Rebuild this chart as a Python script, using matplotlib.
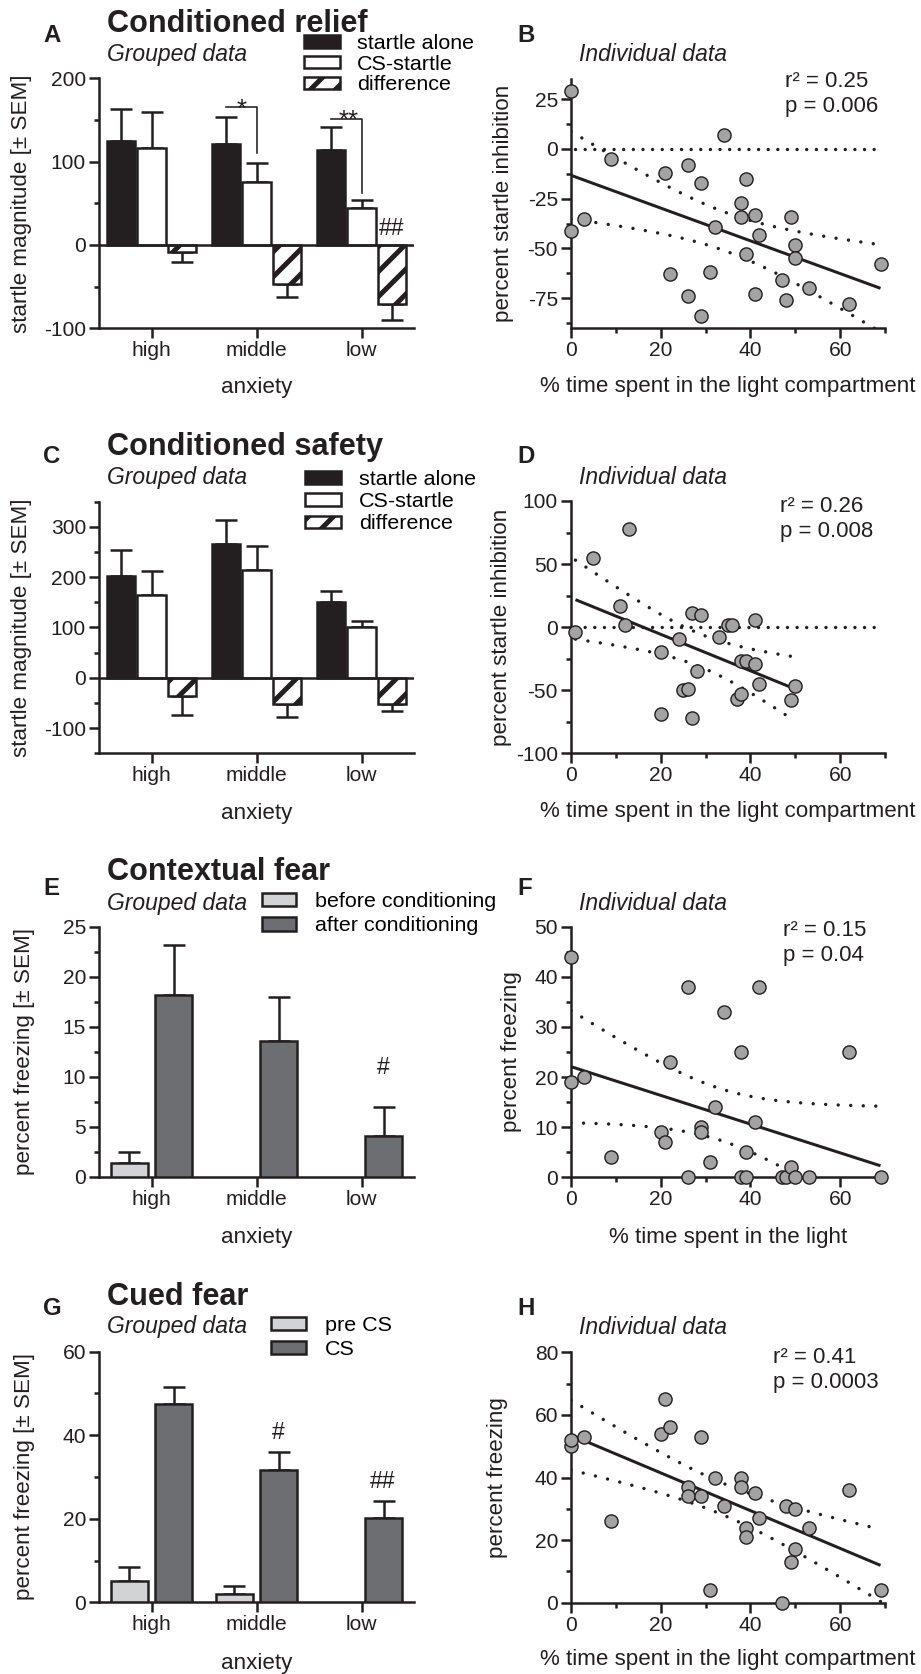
import numpy as np
import matplotlib
matplotlib.use('Agg')
import matplotlib.pyplot as plt
from matplotlib.patches import Patch
from matplotlib.ticker import MultipleLocator

plt.rcParams['font.family'] = ['Liberation Sans', 'DejaVu Sans']
plt.rcParams['axes.unicode_minus'] = False
plt.rcParams['hatch.linewidth'] = 2.4

# ------------------------------------------------------------------ data
groups = ['high', 'middle', 'low']

relief_alone = [125, 121, 114]
relief_alone_sem = [38, 32, 27]
relief_cs = [116, 75, 44]
relief_cs_sem = [43, 23, 10]
relief_diff = [-9, -47, -71]
relief_diff_sem = [12, 15, 19]

safety_alone = [202, 265, 151]
safety_alone_sem = [53, 48, 22]
safety_cs = [164, 214, 100]
safety_cs_sem = [48, 48, 13]
safety_diff = [-36, -52, -52]
safety_diff_sem = [37, 26, 14]

context_before = [1.4, 0, 0]
context_before_sem = [1.1, 0, 0]
context_after = [18.2, 13.6, 4.1]
context_after_sem = [5.0, 4.4, 2.9]

cued_pre = [5.2, 1.9, 0]
cued_pre_sem = [3.3, 2.0, 0]
cued_cs = [47.4, 31.7, 20.1]
cued_cs_sem = [4.1, 4.2, 4.2]

relief_x = [0, 0, 3, 9, 21, 22, 26, 26, 29, 29, 31, 32, 34, 39, 38, 38, 41, 42,
            39, 41, 49, 50, 50, 47, 48, 53, 62, 69]
relief_y = [29, -41, -35, -5, -12, -63, -8, -74, -17, -84, -62, -39, 7, -15, -27,
            -34, -33, -43, -53, -73, -34, -48, -55, -66, -76, -70, -78, -58]

safety_x = [1, 5, 13, 11, 12, 20, 20, 24, 27, 29, 28, 25, 26, 27, 33, 35, 36, 41,
            38, 39, 41, 37, 38, 42, 49, 50]
safety_y = [-4, 55, 78, 17, 2, -20, -69, -9, 11, 10, -35, -50, -49, -72, -8, 2, 2,
            6, -27, -27, -29, -57, -53, -45, -58, -47]

context_x = [0, 0, 3, 9, 20, 21, 22, 26, 26, 29, 29, 31, 32, 34, 38, 38, 39, 39,
             41, 42, 47, 48, 49, 50, 53, 62, 69]
context_y = [44, 19, 20, 4, 9, 7, 23, 38, 0, 10, 9, 3, 14, 33, 25, 0, 0, 5, 11, 38,
             0, 0, 2, 0, 0, 25, 0]

cued_x = [0, 0, 3, 9, 20, 21, 22, 26, 26, 29, 29, 31, 32, 34, 38, 38, 39, 39, 41,
          42, 47, 48, 50, 49, 50, 53, 62, 69]
cued_y = [50, 52, 53, 26, 54, 65, 56, 37, 34, 53, 34, 4, 40, 31, 40, 37, 24, 21,
          35, 27, 0, 31, 30, 13, 17, 24, 36, 4]

stats_B = ['r² = 0.25', 'p = 0.006']
stats_D = ['r² = 0.26', 'p = 0.008']
stats_F = ['r² = 0.15', 'p = 0.04']
stats_H = ['r² = 0.41', 'p = 0.0003']

# ------------------------------------------------------------------ style
W, H = 921, 1674
DPI = 150


def pt(px):
    return px * 72.0 / DPI


BLACK = '#231f20'
LIGHT = '#d1d3d4'
DARK = '#6d6e71'
GREY = '#a3a3a3'
LW = pt(2.5)

FS_TICK = 10.1
FS_LAB = 10.75
FS_TITLE = 14.7
FS_LET = 11.5
FS_SUB = 11.0
FS_STAT = 10.7
FS_LEG = 10.3
FS_SIG = 11.0
FS_STAR = 12.5

fig = plt.figure(figsize=(W / DPI, H / DPI), dpi=DPI)


def rect(x0, x1, ytop, ybot):
    return [x0 / W, 1 - ybot / H, (x1 - x0) / W, (ybot - ytop) / H]


def ftext(x, y, s, **kw):
    fig.text(x / W, 1 - y / H, s, va='baseline', ha='left', **kw)


def base_axes(ax, ylim, major, minor):
    for s in ('top', 'right'):
        ax.spines[s].set_visible(False)
    for s in ('left', 'bottom'):
        ax.spines[s].set_linewidth(LW)
        ax.spines[s].set_color(BLACK)
    ax.set_ylim(*ylim)
    ax.yaxis.set_major_locator(MultipleLocator(major))
    ax.yaxis.set_minor_locator(MultipleLocator(minor))
    ax.tick_params(which='major', length=pt(10), width=LW, color=BLACK,
                   labelsize=FS_TICK, pad=pt(3), labelcolor=BLACK)
    ax.tick_params(which='minor', length=pt(5), width=LW, color=BLACK)
    ax.set_facecolor('none')


def set_labels(ax, xlabel, ylabel, box, xlab_y, ylab_x):
    x0, x1, ytop, ybot = box
    ax.set_xlabel(xlabel, fontsize=FS_LAB, va='center', color=BLACK)
    ax.xaxis.set_label_coords(0.5, (ybot - xlab_y) / (ybot - ytop))
    ax.set_ylabel(ylabel, fontsize=FS_LAB, va='center', color=BLACK)
    ax.yaxis.set_label_coords((ylab_x - x0) / (x1 - x0), 0.5)


def bars(ax, x, vals, sems, width, **kw):
    vals = np.asarray(vals, float)
    sems = np.asarray(sems, float)
    keep = vals != 0
    ax.bar(x[keep], vals[keep], width, edgecolor=BLACK, linewidth=LW, zorder=3, **kw)
    lower = np.where(vals < 0, sems, 0)[keep]
    upper = np.where(vals > 0, sems, 0)[keep]
    ax.errorbar(x[keep], vals[keep], yerr=[lower, upper], fmt='none', ecolor=BLACK,
                elinewidth=LW, capsize=pt(11), capthick=LW, zorder=2)


def legend(ax, handles, left, top, hlen, hh, pad, spacing):
    ax.legend(handles=handles, loc='upper left',
              bbox_to_anchor=(left / W, 1 - top / H), bbox_transform=fig.transFigure,
              frameon=False, fontsize=FS_LEG, handlelength=hlen / 21.4,
              handleheight=hh / 21.4, handletextpad=pad / 21.4,
              labelspacing=spacing, borderpad=0, borderaxespad=0)


def cat_axis(ax):
    ax.set_xlim(-0.5, 2.5)
    ax.set_xticks(np.arange(3), groups)
    ax.tick_params(axis='x', which='minor', bottom=False)


x3 = np.arange(3)

# ------------------------------------------------------------------ A
boxA = (99, 414, 78.3, 328.3)
axA = fig.add_axes(rect(*boxA))
base_axes(axA, (-100, 200), 100, 50)
cat_axis(axA)
bars(axA, x3 - 0.29, relief_alone, relief_alone_sem, 0.268, color=BLACK)
bars(axA, x3, relief_cs, relief_cs_sem, 0.268, color='white')
bars(axA, x3 + 0.29, relief_diff, relief_diff_sem, 0.268, color='white', hatch='//')
axA.axhline(0, color=BLACK, lw=LW, zorder=4)
axA.plot([0.71, 1.0, 1.0], [166, 166, 110], color=BLACK, lw=pt(1.6), clip_on=False)
axA.plot([1.71, 2.0, 2.0], [151, 151, 62], color=BLACK, lw=pt(1.6), clip_on=False)
axA.text(0.863, 154, '*', ha='center', va='baseline', fontsize=FS_STAR, color=BLACK)
axA.text(1.876, 141, '**', ha='center', va='baseline', fontsize=FS_STAR, color=BLACK)
axA.text(2.29, 12, '##', ha='center', va='baseline', fontsize=FS_SIG, color=BLACK)
set_labels(axA, 'anxiety', 'startle magnitude [± SEM]', boxA, 388, 22)
hA = [Patch(facecolor=BLACK, edgecolor=BLACK, lw=LW, label='startle alone'),
      Patch(facecolor='white', edgecolor=BLACK, lw=LW, label='CS-startle'),
      Patch(facecolor='white', edgecolor=BLACK, lw=LW, hatch='//', label='difference')]
legend(axA, hA, 304, 34, 36, 11, 17, 0.08)
ftext(43, 41.7, 'A', fontsize=FS_LET, fontweight='bold', color=BLACK)
ftext(107, 31.7, 'Conditioned relief', fontsize=FS_TITLE, fontweight='bold', color=BLACK)
ftext(107, 61, 'Grouped data', fontsize=FS_SUB, style='italic', color=BLACK)

# ------------------------------------------------------------------ C
boxC = (99, 414, 501.7, 753.3)
axC = fig.add_axes(rect(*boxC))
base_axes(axC, (-150, 350), 100, 50)
cat_axis(axC)
bars(axC, x3 - 0.29, safety_alone, safety_alone_sem, 0.268, color=BLACK)
bars(axC, x3, safety_cs, safety_cs_sem, 0.268, color='white')
bars(axC, x3 + 0.29, safety_diff, safety_diff_sem, 0.268, color='white', hatch='//')
axC.axhline(0, color=BLACK, lw=LW, zorder=4)
set_labels(axC, 'anxiety', 'startle magnitude [± SEM]', boxC, 813, 22)
legend(axC, hA, 305, 470, 36, 11, 18, 0.15)
ftext(43, 463.3, 'C', fontsize=FS_LET, fontweight='bold', color=BLACK)
ftext(107, 455, 'Conditioned safety', fontsize=FS_TITLE, fontweight='bold', color=BLACK)
ftext(107, 484, 'Grouped data', fontsize=FS_SUB, style='italic', color=BLACK)

# ------------------------------------------------------------------ E
boxE = (99, 414, 926.7, 1176.7)
axE = fig.add_axes(rect(*boxE))
base_axes(axE, (0, 25), 5, 2.5)
cat_axis(axE)
bars(axE, x3 - 0.21, context_before, context_before_sem, 0.35, color=LIGHT)
bars(axE, x3 + 0.21, context_after, context_after_sem, 0.35, color=DARK)
axE.text(2.21, 10.3, '#', ha='center', va='baseline', fontsize=FS_SIG, color=BLACK)
set_labels(axE, 'anxiety', 'percent freezing [± SEM]', boxE, 1237, 25)
hE = [Patch(facecolor=LIGHT, edgecolor=BLACK, lw=LW, label='before conditioning'),
      Patch(facecolor=DARK, edgecolor=BLACK, lw=LW, label='after conditioning')]
legend(axE, hE, 262, 892, 34, 13, 19, 0.25)
ftext(43, 895, 'E', fontsize=FS_LET, fontweight='bold', color=BLACK)
ftext(107, 880, 'Contextual fear', fontsize=FS_TITLE, fontweight='bold', color=BLACK)
ftext(107, 910, 'Grouped data', fontsize=FS_SUB, style='italic', color=BLACK)

# ------------------------------------------------------------------ G
boxG = (99, 414, 1351.7, 1602.3)
axG = fig.add_axes(rect(*boxG))
base_axes(axG, (0, 60), 20, 10)
cat_axis(axG)
bars(axG, x3 - 0.21, cued_pre, cued_pre_sem, 0.35, color=LIGHT)
bars(axG, x3 + 0.21, cued_cs, cued_cs_sem, 0.35, color=DARK)
axG.text(1.21, 39.1, '#', ha='center', va='baseline', fontsize=FS_SIG, color=BLACK)
axG.text(2.2, 27.3, '##', ha='center', va='baseline', fontsize=FS_SIG, color=BLACK)
set_labels(axG, 'anxiety', 'percent freezing [± SEM]', boxG, 1663, 25)
hG = [Patch(facecolor=LIGHT, edgecolor=BLACK, lw=LW, label='pre CS'),
      Patch(facecolor=DARK, edgecolor=BLACK, lw=LW, label='CS')]
legend(axG, hG, 271, 1316, 35, 12, 19, 0.25)
ftext(43, 1315, 'G', fontsize=FS_LET, fontweight='bold', color=BLACK)
ftext(107, 1305, 'Cued fear', fontsize=FS_TITLE, fontweight='bold', color=BLACK)
ftext(107, 1333, 'Grouped data', fontsize=FS_SUB, style='italic', color=BLACK)


# ------------------------------------------------------------------ scatter panels
def t_crit(df):
    z = 1.959964
    return z + (z ** 3 + z) / (4 * df) + (5 * z ** 5 + 16 * z ** 3 + 3 * z) / (96 * df ** 2)


def scatter_panel(box, xs, ys, ylim, major, minor, zero_line, xlabel, ylabel,
                  xlab_y, ylab_x):
    ax = fig.add_axes(rect(*box))
    base_axes(ax, ylim, major, minor)
    ax.set_xlim(0, 70)
    ax.xaxis.set_major_locator(MultipleLocator(20))
    ax.xaxis.set_minor_locator(MultipleLocator(10))
    xs = np.asarray(xs, float)
    ys = np.asarray(ys, float)
    slope, intercept = np.polyfit(xs, ys, 1)
    xx = np.linspace(xs.min(), xs.max(), 300)
    yy = intercept + slope * xx
    n = len(xs)
    resid = ys - (intercept + slope * xs)
    s = np.sqrt(np.sum(resid ** 2) / (n - 2))
    sxx = np.sum((xs - xs.mean()) ** 2)
    half = t_crit(n - 2) * s * np.sqrt(1.0 / n + (xx - xs.mean()) ** 2 / sxx)
    dot_px = 3.4
    dot_lw = pt(dot_px)
    if zero_line:
        ax.axhline(0, xmin=1 / 70, xmax=69 / 70, color=BLACK, lw=dot_lw,
                   ls=(0, (0.01, 9.6 / dot_px)), dash_capstyle='round', zorder=2)
    for band in (yy + half, yy - half):
        ax.plot(xx, band, color=BLACK, lw=dot_lw, ls=(0, (0.01, 12.5 / dot_px)),
                dash_capstyle='round', zorder=2)
    ax.plot(xx, yy, color=BLACK, lw=pt(3), zorder=3, solid_capstyle='butt')
    ax.scatter(xs, ys, s=40, facecolor=GREY, edgecolor=BLACK, linewidths=pt(1.4),
               zorder=5, clip_on=False)
    set_labels(ax, xlabel, ylabel, box, xlab_y, ylab_x)
    return ax


XL = '% time spent in the light compartment'
boxB = (571, 885, 79.3, 328.1)
scatter_panel(boxB, relief_x, relief_y, (-90, 35), 25, 12.5, True, XL,
              'percent startle inhibition', 387, 503)
ftext(517, 41.7, 'B', fontsize=FS_LET, fontweight='bold', color=BLACK)
ftext(579, 61, 'Individual data', fontsize=FS_SUB, style='italic', color=BLACK)
ftext(785, 87.3, stats_B[0], fontsize=FS_STAT, color=BLACK)
ftext(785, 112, stats_B[1], fontsize=FS_STAT, color=BLACK)

boxD = (571, 885, 501, 753.3)
scatter_panel(boxD, safety_x, safety_y, (-100, 100), 50, 25, True, XL,
              'percent startle inhibition', 812, 502)
ftext(517, 463.3, 'D', fontsize=FS_LET, fontweight='bold', color=BLACK)
ftext(579, 484, 'Individual data', fontsize=FS_SUB, style='italic', color=BLACK)
ftext(780, 511.7, stats_D[0], fontsize=FS_STAT, color=BLACK)
ftext(780, 536.7, stats_D[1], fontsize=FS_STAT, color=BLACK)

boxF = (571, 885, 926.7, 1177.3)
scatter_panel(boxF, context_x, context_y, (0, 50), 10, 5, False,
              '% time spent in the light', 'percent freezing', 1237, 512)
ftext(517, 895, 'F', fontsize=FS_LET, fontweight='bold', color=BLACK)
ftext(579, 910, 'Individual data', fontsize=FS_SUB, style='italic', color=BLACK)
ftext(783, 936, stats_F[0], fontsize=FS_STAT, color=BLACK)
ftext(783, 961, stats_F[1], fontsize=FS_STAT, color=BLACK)

boxH = (571, 885, 1352.3, 1602.7)
scatter_panel(boxH, cued_x, cued_y, (0, 80), 20, 10, False, XL,
              'percent freezing', 1660, 497)
ftext(517, 1315, 'H', fontsize=FS_LET, fontweight='bold', color=BLACK)
ftext(579, 1334, 'Individual data', fontsize=FS_SUB, style='italic', color=BLACK)
ftext(773, 1363.3, stats_H[0], fontsize=FS_STAT, color=BLACK)
ftext(773, 1388.3, stats_H[1], fontsize=FS_STAT, color=BLACK)

fig.savefig('out.png', dpi=DPI)
